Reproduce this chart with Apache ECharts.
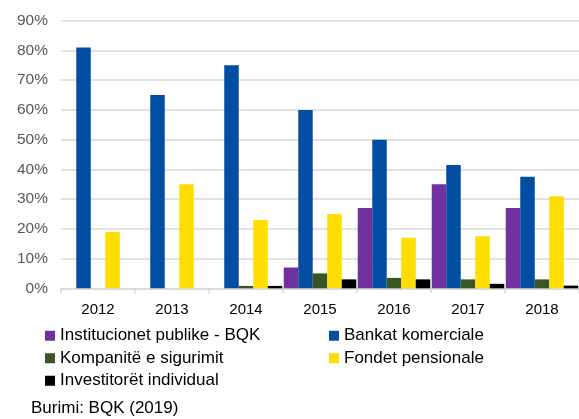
<!DOCTYPE html>
<html>
<head>
<meta charset="utf-8">
<script src="https://cdn.jsdelivr.net/npm/echarts@6/dist/echarts.min.js"></script>
<style>
  html, body { margin: 0; padding: 0; background: #ffffff; }
  #chart { width: 579px; height: 419px; }
</style>
</head>
<body>
<div id="chart"></div>
<script>
// Struktura e investitorëve në letrat me vlerë të Qeverisë (%)
const years = ['2012', '2013', '2014', '2015', '2016', '2017', '2018'];
const yTicks = [0, 10, 20, 30, 40, 50, 60, 70, 80, 90];

const publicInst = [null, null, null, 7, 27, 35, 27];
const commercialBanks = [81, 65, 75, 60, 50, 41.5, 37.5];
const insurance = [null, null, 0.8, 5, 3.5, 3, 3];
const pensionFunds = [19, 35, 23, 25, 17, 17.5, 31];
const individuals = [null, null, 0.8, 3, 3, 1.5, 0.9];

const seriesNames = [
  'Institucionet publike - BQK',
  'Bankat komerciale',
  'Kompanitë e sigurimit',
  'Fondet pensionale',
  'Investitorët individual'
];
const seriesColors = ['#7030A0', '#024EA2', '#375623', '#FFDD00', '#000000'];
const seriesValues = [publicInst, commercialBanks, insurance, pensionFunds, individuals];

// legend is laid out in two columns: left column gets items 0, 2, 4
const legendLeftCol = [seriesNames[0], seriesNames[2], seriesNames[4]];
const legendRightCol = [seriesNames[1], seriesNames[3]];

const chart = echarts.init(document.getElementById('chart'), null, { renderer: 'canvas' });

const font = 'Liberation Sans, Arial, sans-serif';

const legendBase = {
  orient: 'vertical',
  top: 327,
  padding: 0,
  itemGap: 5,
  itemWidth: 10,
  itemHeight: 10,
  icon: 'rect',
  textStyle: {
    fontFamily: font,
    fontSize: 17,
    color: '#000000',
    lineHeight: 17.5
  }
};

chart.setOption({
  animation: false,
  backgroundColor: '#ffffff',
  title: {
    text: 'Burimi: BQK (2019)',
    left: 31,
    top: 399.5,
    padding: 0,
    textStyle: { fontFamily: font, fontSize: 17, fontWeight: 'normal', color: '#000000' }
  },
  legend: [
    Object.assign({}, legendBase, { left: 45, data: legendLeftCol }),
    Object.assign({}, legendBase, { left: 329, data: legendRightCol })
  ],
  grid: {
    left: 61,
    right: 0,
    top: 20.7,
    bottom: 130.7,
    containLabel: false
  },
  xAxis: {
    type: 'category',
    data: years,
    boundaryGap: true,
    axisLine: { show: true, lineStyle: { color: '#d9d9d9', width: 1.5 } },
    axisTick: { show: true, length: 5, interval: 0, lineStyle: { color: '#d9d9d9', width: 1.5 } },
    axisLabel: {
      margin: 14,
      interval: 0,
      fontFamily: font,
      fontSize: 15,
      color: '#000000'
    }
  },
  yAxis: {
    type: 'value',
    min: yTicks[0],
    max: yTicks[yTicks.length - 1],
    interval: 10,
    axisLine: { show: false },
    axisTick: { show: false },
    splitLine: { lineStyle: { color: '#d9d9d9', width: 1.5 } },
    axisLabel: {
      margin: 13,
      fontFamily: font,
      fontSize: 15.5,
      color: '#595959',
      formatter: '{value}%'
    }
  },
  series: seriesNames.map((name, i) => ({
    name: name,
    type: 'bar',
    data: seriesValues[i],
    barGap: '0%',
    barCategoryGap: '2%',
    itemStyle: { color: seriesColors[i] }
  }))
});
</script>
</body>
</html>
